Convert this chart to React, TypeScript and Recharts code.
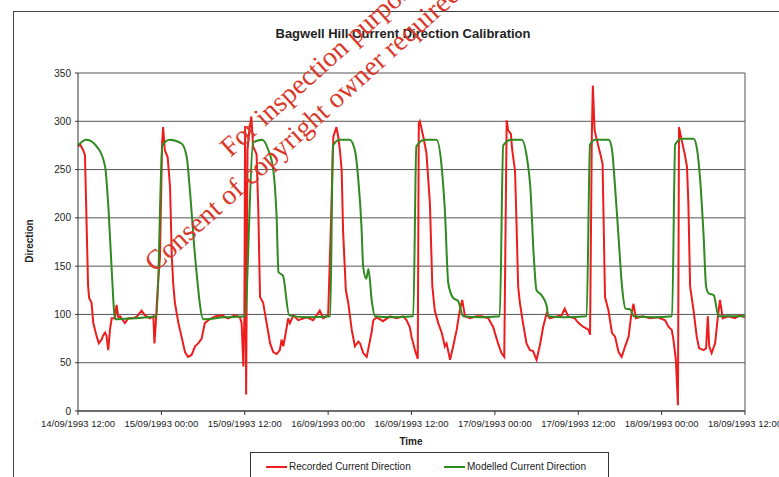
import { LineChart, Line, XAxis, YAxis, CartesianGrid, ReferenceLine } from 'recharts';

// hours since 14/09/1993 12:00
const timeTicks = [0, 12, 24, 36, 48, 60, 72, 84, 96];
const timeTickLabels = [
  '14/09/1993 12:00',
  '15/09/1993 00:00',
  '15/09/1993 12:00',
  '16/09/1993 00:00',
  '16/09/1993 12:00',
  '17/09/1993 00:00',
  '17/09/1993 12:00',
  '18/09/1993 00:00',
  '18/09/1993 12:00',
];
const directionTicks = [0, 50, 100, 150, 200, 250, 300, 350];

// [hour, direction]
const recorded: [number, number][] = [
  [0, 274], [0.3, 276], [0.75, 270], [1.0, 265], [1.45, 130], [1.6, 117], [1.95, 112], [2.2, 91],
  [2.7, 77], [3.0, 70], [3.4, 74], [3.6, 78], [3.9, 81], [4.1, 78], [4.35, 63], [4.6, 84],
  [4.85, 96], [5.3, 96], [5.55, 110], [5.8, 97], [6.05, 98], [6.75, 91], [7.25, 96], [7.95, 96],
  [8.5, 98], [9.15, 104], [9.65, 99], [10.35, 96], [10.85, 98], [11.0, 70], [11.2, 91], [11.45, 125],
  [11.8, 160], [12.1, 277], [12.25, 294], [12.5, 270], [12.9, 263], [13.25, 232], [13.5, 160], [13.7, 132],
  [13.95, 112], [14.45, 91], [14.9, 77], [15.4, 61], [15.85, 56], [16.35, 58], [16.85, 67], [17.3, 70],
  [17.8, 75], [18.25, 91], [18.75, 94], [19.7, 98], [20.7, 99], [21.6, 96], [22.6, 99], [23.3, 97],
  [23.55, 91], [23.8, 46], [23.95, 100], [24.05, 295], [24.2, 17], [24.4, 270], [24.65, 290], [24.95, 305],
  [25.2, 274], [25.7, 266], [25.95, 208], [26.2, 118], [26.65, 112], [27.15, 91], [27.65, 70], [28.1, 61],
  [28.6, 59], [29.05, 63], [29.3, 74], [29.55, 67], [30.05, 87], [30.25, 96], [30.5, 91], [31.0, 99],
  [31.7, 94], [32.9, 97], [33.85, 94], [34.8, 104], [35.3, 96], [36.0, 99], [36.35, 180], [36.75, 284],
  [37.2, 294], [37.45, 284], [37.7, 270], [37.95, 249], [38.15, 187], [38.55, 125], [38.9, 112], [39.4, 84],
  [39.85, 67], [40.35, 72], [40.6, 70], [41.05, 60], [41.55, 56], [41.75, 63], [42.25, 81], [42.5, 94],
  [43.0, 97], [43.9, 93], [44.9, 98], [45.85, 96], [46.8, 98], [47.3, 94], [47.75, 87], [48.0, 77],
  [48.5, 63], [48.9, 54], [49.05, 298], [49.2, 300], [49.7, 284], [50.15, 267], [50.65, 215], [51.0, 129],
  [51.35, 104], [51.85, 91], [52.35, 81], [52.8, 67], [53.05, 70], [53.55, 53], [54.0, 67], [54.5, 84],
  [54.95, 104], [55.3, 115], [55.7, 98], [56.4, 96], [57.35, 98], [58.1, 98], [59.05, 96], [59.75, 87],
  [60.45, 70], [60.95, 60], [61.35, 56], [61.7, 301], [61.9, 291], [62.3, 287], [62.5, 270], [62.9, 249],
  [63.1, 198], [63.35, 129], [63.6, 112], [64.05, 91], [64.55, 70], [65.05, 63], [65.5, 62], [66.0, 53],
  [66.45, 67], [66.95, 87], [67.45, 101], [67.9, 96], [68.9, 98], [69.6, 99], [70.05, 106], [70.55, 98],
  [71.5, 96], [72.05, 91], [72.75, 87], [73.5, 84], [73.7, 79], [73.95, 284], [74.1, 337], [74.35, 291],
  [74.7, 280], [75.15, 267], [75.5, 256], [75.65, 198], [75.85, 118], [76.35, 104], [76.85, 81], [77.3, 77],
  [77.8, 61], [78.25, 56], [78.75, 67], [79.25, 77], [79.6, 98], [79.95, 111], [80.3, 96], [81.3, 98],
  [82.3, 96], [83.45, 97], [84.5, 94], [85.0, 87], [85.45, 84], [85.7, 74], [86.05, 53], [86.35, 6],
  [86.5, 294], [86.9, 280], [87.3, 267], [87.65, 253], [87.85, 215], [88.1, 129], [88.6, 104], [89.05, 77],
  [89.4, 65], [90.05, 63], [90.4, 65], [90.65, 98], [90.85, 67], [91.2, 60], [91.7, 70], [92.1, 98],
  [92.4, 115], [92.8, 96], [93.55, 98], [94.55, 96], [95.25, 99], [96, 97],
];

const modelled: [number, number][] = [
  [0, 275], [1.2, 281], [2.9, 272], [3.9, 253], [4.4, 208], [4.85, 146], [5.35, 95], [8, 96],
  [11.3, 98], [12.15, 275], [13.2, 281], [14.9, 277], [15.65, 263], [16.1, 229], [16.85, 160], [18.05, 95],
  [21, 97], [24.0, 98], [25.2, 278], [26.5, 281], [27.4, 270], [28.1, 250], [28.6, 198], [28.85, 144],
  [29.5, 140], [30.4, 99], [33, 97], [36.3, 98], [36.7, 275], [37.7, 281], [39.1, 281], [39.85, 270],
  [40.35, 239], [40.8, 191], [41.05, 149], [41.5, 137], [41.8, 147], [42.3, 113], [42.75, 98], [45, 97],
  [48.25, 98], [48.7, 274], [49.9, 281], [51.6, 281], [52.3, 256], [52.8, 208], [53.3, 132], [54.0, 117],
  [54.7, 114], [55.45, 98], [58, 97], [60.7, 98], [61.2, 275], [62.4, 281], [63.85, 281], [64.6, 263],
  [65.1, 232], [65.6, 160], [66.0, 125], [66.7, 120], [67.45, 109], [67.7, 98], [70, 97], [73.2, 98],
  [73.7, 276], [74.45, 281], [76.4, 281], [76.85, 271], [77.3, 232], [77.8, 180], [78.3, 129], [78.8, 106],
  [79.5, 105], [80.0, 98], [83, 97], [85.5, 98], [85.95, 276], [86.9, 282], [88.6, 282], [89.1, 271],
  [89.55, 239], [90.05, 180], [90.4, 129], [90.75, 122], [91.5, 120], [92.2, 98], [96, 98],
];

const recordedData = recorded.map(([t, v]) => ({ t, v }));
const modelledData = modelled.map(([t, v]) => ({ t, v }));

const RED = '#ee1d1d';
const GREEN = '#2f8a1f';
const INK = '#222';
const FONT = '"Liberation Sans", Arial, sans-serif';

export default function App() {
  return (
    <div style={{ position: 'absolute', left: 0, top: 0, width: 779, height: 477, overflow: 'hidden', background: '#fff', fontFamily: FONT }}>
      {/* chart area frame, runs off the right and bottom */}
      <div style={{ position: 'absolute', left: 13, top: 11, width: 820, height: 520, border: '1px solid #444' }} />

      <LineChart width={779} height={477} margin={{ top: 73, right: 34, bottom: 36, left: 0 }}>
        <CartesianGrid horizontal vertical={false} stroke="#555" strokeWidth={1} />
        <XAxis
          type="number"
          dataKey="t"
          domain={[0, 96]}
          ticks={timeTicks}
          interval={0}
          height={30}
          tickSize={4}
          tickMargin={5}
          stroke="#333"
          tickFormatter={(v: number) => timeTickLabels[timeTicks.indexOf(v)] ?? ''}
          tick={{ fontSize: 9.5, fill: INK, fontFamily: FONT }}
          allowDataOverflow
        />
        <YAxis
          type="number"
          domain={[0, 350]}
          ticks={directionTicks}
          interval={0}
          width={78}
          tickSize={3}
          tickMargin={4}
          stroke="#333"
          tick={{ fontSize: 10, fill: INK, fontFamily: FONT }}
          allowDataOverflow
        />
        <ReferenceLine x={96} stroke="#555" />
        <Line data={recordedData} dataKey="v" type="linear" stroke={RED} strokeWidth={2} dot={false} isAnimationActive={false} />
        <Line data={modelledData} dataKey="v" type="monotone" stroke={GREEN} strokeWidth={2} dot={false} isAnimationActive={false} />
      </LineChart>

      <svg width={779} height={477} style={{ position: 'absolute', left: 0, top: 0, pointerEvents: 'none' }}>
        <text x={403} y={38} textAnchor="middle" fontSize={13} fontWeight="bold" fill={INK} fontFamily={FONT}>
          Bagwell Hill Current Direction Calibration
        </text>
        <text x={0} y={0} transform="translate(33 241) rotate(-90)" textAnchor="middle" fontSize={10} fontWeight="bold" fill={INK} fontFamily={FONT}>
          Direction
        </text>
        <text x={411} y={445} textAnchor="middle" fontSize={10} fontWeight="bold" fill={INK} fontFamily={FONT}>
          Time
        </text>
        {/* watermark */}
        <g transform="translate(155 273) rotate(-42)" fill="#d93a2b" fontFamily='"Liberation Serif", "Times New Roman", serif' fontSize={28}>
          <text x={133} y={-35}>For inspection purposes only.</text>
          <text x={0} y={0}>Consent of copyright owner required for any other use.</text>
        </g>
      </svg>

      <div style={{ position: 'absolute', left: 250, top: 452, width: 357, height: 40, border: '1px solid #333', background: '#fff', fontSize: 10, color: INK }}>
        <div style={{ position: 'absolute', left: 15, top: 13, width: 21, height: 2, background: RED }} />
        <div style={{ position: 'absolute', left: 38, top: 8 }}>Recorded Current Direction</div>
        <div style={{ position: 'absolute', left: 193, top: 13, width: 21, height: 2, background: GREEN }} />
        <div style={{ position: 'absolute', left: 216, top: 8 }}>Modelled Current Direction</div>
      </div>
    </div>
  );
}
